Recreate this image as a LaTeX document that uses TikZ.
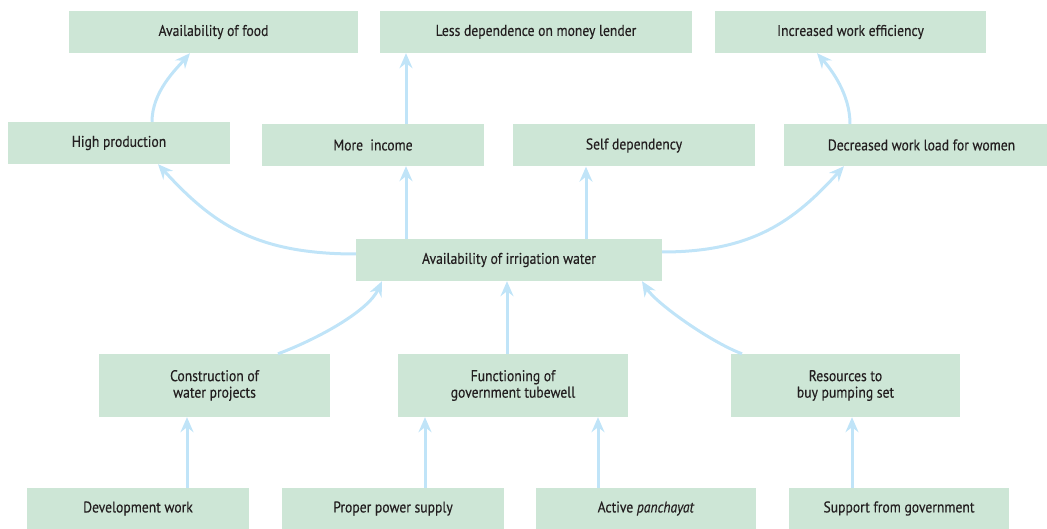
\documentclass[tikz,border=0pt]{standalone}
\usepackage{fontspec}
\setmainfont[FakeStretch=0.88,FakeBold=0.3]{PT Sans}
\usetikzlibrary{arrows.meta}
\definecolor{boxgreen}{RGB}{205,230,214}
\definecolor{arrowblue}{RGB}{192,228,248}
\definecolor{textdark}{RGB}{35,31,32}
\tikzset{
  box/.style={rectangle, fill=boxgreen, inner sep=0pt, minimum height=42pt,
    align=center, text=textdark, font=\fontsize{15.5}{16.5}\selectfont},
  tallbox/.style={box, minimum height=63pt},
  arr/.style={draw=arrowblue, line width=3pt,
    -{Stealth[length=15pt,width=13pt,inset=5pt]}}
}
\begin{document}
\begin{tikzpicture}[x=1pt,y=-1pt]
\useasboundingbox (0,0) rectangle (1047,529);
% top row
\node[box, minimum width=289pt] (food) at (213.5,32) {Availability of food};
\node[box, minimum width=312pt] (lender) at (536,32) {Less dependence on money lender};
\node[box, minimum width=271pt] (eff) at (850.5,32) {Increased work efficiency};
% second row
\node[box, minimum width=222pt] (high) at (119,143) {High production};
\node[box, minimum width=222pt] (income) at (373,145) {More\ \ income};
\node[box, minimum width=242pt] (self) at (634,145.5) {Self dependency};
\node[box, minimum width=275pt] (women) at (921.5,145) {Decreased work load for women};
% centre
\node[box, minimum width=306pt] (water) at (509,260) {Availability of irrigation water};
% fourth row
\node[tallbox, minimum width=231pt] (constr) at (214.5,385.5) {Construction of\\water projects};
\node[tallbox, minimum width=230pt] (func) at (513,385.5) {Functioning of\\government tubewell};
\node[tallbox, minimum width=229pt] (res) at (845.5,385.5) {Resources to\\buy pumping set};
% bottom row
\node[box, minimum width=222pt, minimum height=41pt] (dev) at (138,508.5) {Development work};
\node[box, minimum width=222pt, minimum height=41pt] (power) at (393,508.5) {Proper power supply};
\node[box, minimum width=220pt, minimum height=41pt] (panch) at (646,508.5) {Active \textit{panchayat}};
\node[box, minimum width=220pt, minimum height=41pt] (support) at (899,508.5) {Support from government};
% connectors, bottom row to fourth row
\draw[arr] ([xshift=49pt]dev.north) -- ([xshift=49pt]dev.north |- constr.south);
\draw[arr] ([xshift=32pt]power.north) -- ([xshift=32pt]power.north |- func.south);
\draw[arr] ([xshift=-48pt]panch.north) -- ([xshift=-48pt]panch.north |- func.south);
\draw[arr] ([xshift=-47pt]support.north) -- ([xshift=-47pt]support.north |- res.south);
% fourth row to centre
\draw[arr] ([xshift=63.5pt]constr.north) .. controls +(40,-15) and +(-14,30) .. ([xshift=-127pt]water.south);
\draw[arr] ([xshift=-6pt]func.north) -- ([xshift=-6pt]func.north |- water.south);
\draw[arr] ([xshift=-103.5pt]res.north) .. controls +(-32,-12) and +(14,22) .. ([xshift=133pt]water.south);
% centre to second row
\draw[arr] ([yshift=6pt]water.west) .. controls +(-100,0) and +(55,60) .. ([xshift=39pt]high.south);
\draw[arr] ([xshift=-103pt]water.north) -- ([xshift=-103pt]water.north |- income.south);
\draw[arr] ([xshift=77pt]water.north) -- ([xshift=77pt]water.north |- self.south);
\draw[arr] ([yshift=8pt]water.east) .. controls +(90,0) and +(-50,55) .. ([xshift=-77.5pt]women.south);
% second row to top row
\draw[arr] ([xshift=33pt]high.north) .. controls +(0,-30) and +(-14,16) .. ([xshift=-23.5pt]food.south);
\draw[arr] ([xshift=33pt]income.north) -- ([xshift=33pt]income.north |- lender.south);
\draw[arr] ([xshift=-71.5pt]women.north) .. controls +(0,-30) and +(14,16) .. ([xshift=-33.5pt]eff.south);
\end{tikzpicture}
\end{document}
